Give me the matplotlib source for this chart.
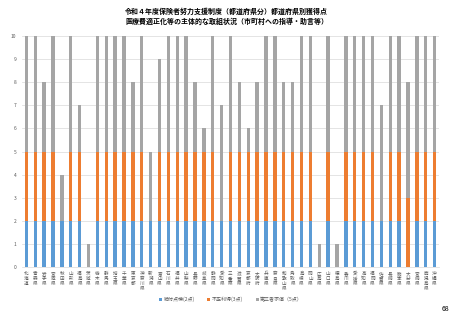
import matplotlib
matplotlib.use("Agg")
import matplotlib.pyplot as plt
import numpy as np

plt.rcParams['font.family'] = ['Noto Sans CJK JP', 'DejaVu Sans']

# ── データ ─────────────────────────────────────────────
prefs = [
    "北海道", "青森県", "岩手県", "宮城県", "秋田県", "山形県", "福島県", "茨城県",
    "栃木県", "群馬県", "埼玉県", "千葉県", "東京都", "神奈川県", "新潟県", "富山県",
    "石川県", "福井県", "山梨県", "長野県", "岐阜県", "静岡県", "愛知県", "三重県",
    "滋賀県", "京都府", "大阪府", "兵庫県", "奈良県", "和歌山県", "鳥取県", "島根県",
    "岡山県", "広島県", "山口県", "徳島県", "香川県", "愛媛県", "高知県", "福岡県",
    "佐賀県", "長崎県", "熊本県", "大分県", "宮崎県", "鹿児島県", "沖縄県",
]
kyufu = [2, 2, 2, 2, 2, 2, 2, 0, 2, 2, 2, 2, 2, 2, 2, 2,
         2, 2, 2, 2, 2, 2, 2, 2, 2, 2, 2, 2, 2, 2, 2, 2,
         2, 0, 2, 0, 2, 2, 2, 2, 2, 2, 2, 0, 2, 2, 2]
fusei = [3, 3, 3, 3, 0, 3, 3, 0, 3, 3, 3, 3, 3, 3, 0, 3,
         3, 3, 3, 3, 3, 3, 0, 3, 3, 3, 3, 3, 3, 3, 3, 3,
         3, 0, 3, 0, 3, 3, 3, 3, 0, 3, 3, 3, 3, 3, 3]
daisan = [5, 5, 3, 5, 2, 5, 2, 1, 5, 5, 5, 5, 3, 5, 3, 4,
          5, 5, 5, 3, 1, 5, 5, 5, 3, 1, 3, 5, 5, 3, 3, 5,
          5, 1, 5, 1, 5, 5, 5, 5, 5, 5, 5, 5, 5, 5, 5]
series_names = ["給付点検(2点)", "不正利得(3点)", "第三者求償（5点）"]
colors = ["#5B9BD5", "#ED7D31", "#A5A5A5"]

title = ("令和４年度保険者努力支援制度（都道府県分）都道府県別獲得点\n"
         "医療費適正化等の主体的な取組状況（市町村への指導・助言等）")

# ── 描画 ───────────────────────────────────────────────
fig = plt.figure(figsize=(4.53, 3.20), dpi=100)
fig.patch.set_facecolor('white')
ax = fig.add_axes([22/453, 53/320, 417/453, 231/320])

x = np.arange(len(prefs))
bottom = np.zeros(len(prefs))
bars = []
for vals, c, name in zip([kyufu, fusei, daisan], colors, series_names):
    b = ax.bar(x, vals, bottom=bottom, width=0.38, color=c, label=name, zorder=3)
    bars.append(b)
    bottom += np.array(vals)

ax.set_xlim(-0.5, len(prefs) - 0.5)
ax.set_ylim(0, 10)
ax.set_yticks(range(0, 11))
ax.grid(True, axis='y', color='#D9D9D9', lw=0.5, zorder=0)
for sp in ['top', 'right', 'left']:
    ax.spines[sp].set_visible(False)
ax.spines['bottom'].set_color('#D9D9D9')
ax.spines['bottom'].set_linewidth(0.5)
ax.tick_params(axis='y', length=0, labelsize=3.5, labelcolor='#595959', pad=4)
ax.set_xticks(x)
ax.set_xticklabels(["\n".join(p) for p in prefs], fontsize=3.3,
                   color='#595959', linespacing=1.0, va='top')
ax.tick_params(axis='x', length=0, pad=3)

fig.text(0.5, 0.975, title, ha='center', va='top', fontsize=5,
         fontweight='bold', linespacing=1.3)

fig.legend(handles=bars, labels=series_names, loc='center',
           bbox_to_anchor=(0.51, 0.065), ncol=3, frameon=False,
           fontsize=3.6, handlelength=0.6, handleheight=0.6,
           handletextpad=0.3, columnspacing=2.5, labelcolor='#595959')

fig.text(446/453, 1 - 309/320, "68", ha='center', va='center', fontsize=5)

fig.savefig("out.png", dpi=100)
